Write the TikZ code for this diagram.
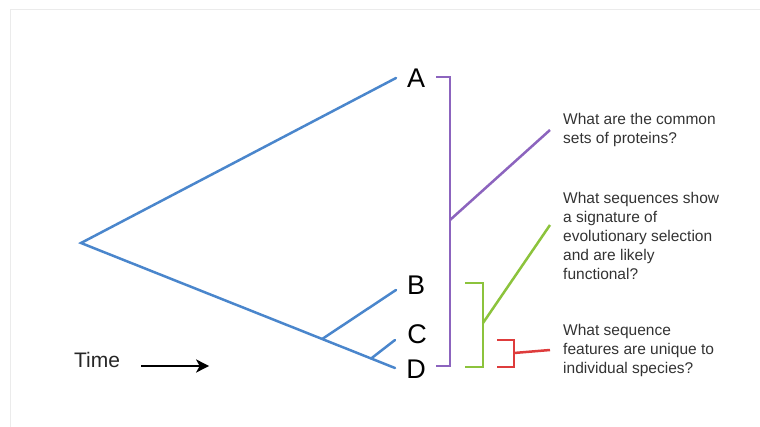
\documentclass[tikz,border=0pt]{standalone}
\usepackage{fontspec}
\setmainfont{Liberation Sans}
\usetikzlibrary{arrows.meta, calc}

\definecolor{treeblue}{RGB}{74,134,204}
\definecolor{setpurple}{RGB}{140,100,190}
\definecolor{selgreen}{RGB}{140,195,60}
\definecolor{uniqred}{RGB}{222,60,60}

\begin{document}
\begin{tikzpicture}[>=Stealth, x=1pt, y=-1pt,
    branch/.style={treeblue, line width=2.5pt, line cap=round},
    brace/.style={line width=2.5pt},
    leaf/.style={font=\fontsize{27}{27}\selectfont, inner sep=0pt},
    question/.style={font=\fontsize{15.5}{19}\selectfont, align=left, anchor=west,
        inner xsep=13pt, inner ysep=0pt, text=black!80}]

    % Frame
    \useasboundingbox (0,0) rectangle (760,427);
    \draw[black!8, line width=1pt] (10,427) -- (10,10) -- (760,10);

    % Tree
    \coordinate (root) at (81,243);
    \coordinate (tipA) at (396,78);
    \coordinate (tipB) at (396,290);
    \coordinate (tipC) at (395,340);
    \coordinate (tipD) at (395,368);
    \coordinate (splitB) at ($(root)!0.768!(tipD)$);
    \coordinate (splitC) at ($(root)!0.924!(tipD)$);
    \draw[branch] (tipA) -- (root) -- (tipD);
    \draw[branch] (splitB) -- (tipB);
    \draw[branch] (splitC) -- (tipC);

    \node[leaf] (A) at (416,78) {A};
    \node[leaf] (B) at (416,285) {B};
    \node[leaf] (C) at (417,334) {C};
    \node[leaf] (D) at (416,369) {D};

    % Questions
    \node[question] (Q1) at (550,130) {What are the common\\sets of proteins?};
    \node[question] (Q2) at (550,236) {What sequences show\\a signature of\\evolutionary selection\\and are likely\\functional?};
    \node[question] (Q3) at (550,350) {What sequence\\features are unique to\\individual species?};

    % Brackets
    \coordinate (setTop) at (450,77);
    \coordinate (setBot) at (450,366);
    \coordinate (setMid) at (450,220);
    \draw[brace, setpurple] ([xshift=-14pt]setTop) -- (setTop) -- (setBot) -- ([xshift=-14pt]setBot);
    \draw[brace, setpurple] (setMid) -- (Q1.west);

    \coordinate (selTop) at (483,283);
    \coordinate (selBot) at (483,367);
    \coordinate (selMid) at (483,323);
    \draw[brace, selgreen] ([xshift=-18pt]selTop) -- (selTop) -- (selBot) -- ([xshift=-18pt]selBot);
    \draw[brace, selgreen] (selMid) -- ([yshift=11pt]Q2.west);

    \coordinate (uniTop) at (514,340);
    \coordinate (uniBot) at (514,367);
    \coordinate (uniMid) at (514,353);
    \draw[brace, uniqred] ([xshift=-17pt]uniTop) -- (uniTop) -- (uniBot) -- ([xshift=-17pt]uniBot);
    \draw[brace, uniqred] (uniMid) -- (Q3.west);

    % Time axis
    \node[font=\fontsize{21}{21}\selectfont, inner sep=0pt, text=black!85] (time) at (97,360) {Time};
    \draw[-{Stealth[length=13pt, width=13pt, inset=3.5pt]}, line width=2.8pt]
        ([xshift=21pt, yshift=-6pt]time.east) -- ++(68,0);

\end{tikzpicture}
\end{document}
